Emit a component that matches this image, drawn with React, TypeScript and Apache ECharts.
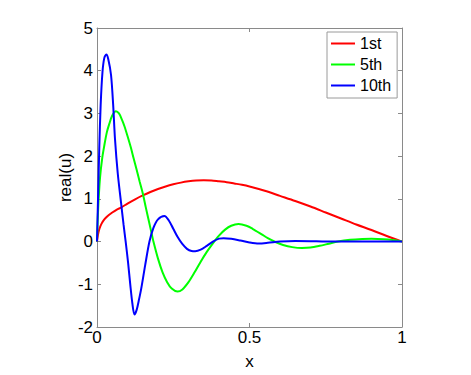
import React, { useEffect, useRef } from "react";
import * as echarts from "echarts";

// Series names
const seriesNames = ["1st", "5th", "10th"];
const seriesColors = ["#ff0000", "#00ff00", "#0000ff"];

// Tick values
const xTicks = [0, 0.5, 1];
const yTicks = [-2, -1, 0, 1, 2, 3, 4, 5];

// 1st mode: [x, real(u)]
const firstMode: [number, number][] = [
  [0, 0], [0.003, 0.15], [0.008, 0.3], [0.015, 0.42], [0.024, 0.52], [0.035, 0.6],
  [0.05, 0.68], [0.065, 0.75], [0.08, 0.8], [0.1, 0.89], [0.125, 0.99], [0.15, 1.08],
  [0.175, 1.16], [0.2, 1.23], [0.225, 1.29], [0.25, 1.34], [0.275, 1.38], [0.3, 1.41],
  [0.325, 1.43], [0.35, 1.435], [0.375, 1.43], [0.4, 1.41], [0.425, 1.39], [0.45, 1.36],
  [0.475, 1.33], [0.5, 1.29], [0.55, 1.19], [0.6, 1.07], [0.65, 0.95], [0.7, 0.82],
  [0.75, 0.68], [0.8, 0.54], [0.85, 0.4], [0.9, 0.27], [0.95, 0.13], [1, 0],
];

// 5th mode
const fifthMode: [number, number][] = [
  [0, 0], [0.004, 0.8], [0.01, 1.5], [0.017, 1.95], [0.024, 2.25], [0.032, 2.55],
  [0.04, 2.75], [0.05, 2.95], [0.062, 3.05], [0.072, 3.0], [0.082, 2.85], [0.09, 2.7],
  [0.1, 2.47], [0.111, 2.2], [0.12, 1.95], [0.13, 1.68], [0.14, 1.4], [0.15, 1.13],
  [0.16, 0.8], [0.17, 0.48], [0.18, 0.16], [0.185, 0], [0.2, -0.4], [0.215, -0.72],
  [0.23, -0.95], [0.245, -1.1], [0.264, -1.17], [0.28, -1.12], [0.3, -0.95], [0.32, -0.72],
  [0.34, -0.47], [0.36, -0.24], [0.38, -0.04], [0.4, 0.14], [0.42, 0.28], [0.44, 0.37],
  [0.464, 0.41], [0.49, 0.37], [0.51, 0.3], [0.54, 0.17], [0.56, 0.08], [0.585, -0.01],
  [0.61, -0.08], [0.64, -0.13], [0.672, -0.15], [0.7, -0.14], [0.73, -0.1], [0.76, -0.05],
  [0.79, 0.0], [0.83, 0.04], [0.87, 0.06], [0.9, 0.065], [0.94, 0.055], [0.97, 0.035], [1, 0],
];

// 10th mode
const tenthMode: [number, number][] = [
  [0, 0], [0.004, 1.2], [0.0075, 2.2], [0.012, 3.2], [0.018, 3.97], [0.024, 4.3],
  [0.0305, 4.38], [0.037, 4.27], [0.046, 3.9], [0.053, 3.2], [0.059, 2.4], [0.068, 1.6],
  [0.079, 0.9], [0.087, 0.4], [0.094, 0], [0.102, -0.5], [0.109, -1.0], [0.116, -1.45],
  [0.123, -1.71], [0.13, -1.6], [0.137, -1.38], [0.145, -1.1], [0.158, -0.55], [0.172, 0],
  [0.185, 0.32], [0.2, 0.52], [0.221, 0.6], [0.235, 0.5], [0.25, 0.3], [0.265, 0.1],
  [0.279, -0.05], [0.295, -0.17], [0.31, -0.22], [0.322, -0.225], [0.34, -0.19], [0.36, -0.1],
  [0.38, 0.0], [0.4, 0.07], [0.415, 0.08], [0.44, 0.065], [0.47, 0.025], [0.5, -0.02],
  [0.53, -0.045], [0.56, -0.03], [0.6, 0.0], [0.65, 0.015], [0.7, 0.01], [0.75, 0.0],
  [0.8, 0.0], [0.9, 0.0], [1, 0],
];

const seriesData = [firstMode, fifthMode, tenthMode];

const FONT = "'Liberation Sans', Arial, Helvetica, sans-serif";
const AXIS_COLOR = "#8a8a8a";

export default function App() {
  const ref = useRef<HTMLDivElement>(null);

  useEffect(() => {
    if (!ref.current) return;
    const chart = echarts.init(ref.current, undefined, { renderer: "svg" });

    const axisLine = { show: true, onZero: false, lineStyle: { color: AXIS_COLOR, width: 1 } };
    const axisTick = { show: true, inside: true, length: 4, lineStyle: { color: AXIS_COLOR, width: 1 } };

    const xBase = {
      type: "value" as const,
      min: xTicks[0],
      max: xTicks[xTicks.length - 1],
      interval: xTicks[1] - xTicks[0],
      splitLine: { show: false },
      axisLine,
      axisTick,
    };
    const yBase = {
      type: "value" as const,
      min: yTicks[0],
      max: yTicks[yTicks.length - 1],
      interval: yTicks[1] - yTicks[0],
      splitLine: { show: false },
      axisLine,
      axisTick,
    };

    chart.setOption({
      animation: false,
      backgroundColor: "#ffffff",
      grid: { left: 97, right: 69, top: 28, bottom: 42, containLabel: false },
      xAxis: [
        {
          ...xBase,
          position: "bottom",
          name: "x",
          nameLocation: "middle",
          nameGap: 26,
          nameMoveOverlap: false,
          nameTextStyle: { fontSize: 17, color: "#000", fontFamily: FONT },
          axisLabel: {
            show: true,
            margin: 2,
            fontSize: 17,
            color: "#000",
            fontFamily: FONT,
            showMinLabel: true,
            showMaxLabel: true,
            formatter: (v: number) => String(v),
          },
        },
        { ...xBase, position: "top", axisLabel: { show: false } },
      ],
      yAxis: [
        {
          ...yBase,
          position: "left",
          name: "real(u)",
          nameLocation: "middle",
          nameGap: 23,
          nameMoveOverlap: false,
          nameTextStyle: { fontSize: 17, color: "#000", fontFamily: FONT },
          axisLabel: {
            show: true,
            margin: 4,
            fontSize: 17,
            color: "#000",
            fontFamily: FONT,
            showMinLabel: true,
            showMaxLabel: true,
          },
        },
        { ...yBase, position: "right", axisLabel: { show: false } },
      ],
      legend: {
        orient: "vertical",
        left: 327,
        top: 32,
        icon: "rect",
        itemWidth: 24,
        itemHeight: 2,
        itemGap: 0,
        padding: [1, 6, 2, 4],
        borderColor: "#9a9a9a",
        borderWidth: 1,
        backgroundColor: "#ffffff",
        textStyle: { fontSize: 16, lineHeight: 21, color: "#000", fontFamily: FONT },
        data: seriesNames,
      },
      series: seriesNames.map((name, i) => ({
        name,
        type: "line",
        xAxisIndex: 0,
        yAxisIndex: 0,
        data: seriesData[i],
        showSymbol: false,
        symbol: "none",
        smooth: 0.3,
        color: seriesColors[i],
        lineStyle: { color: seriesColors[i], width: 2 },
        z: 2 + i,
      })),
    });

    return () => chart.dispose();
  }, []);

  return (
    <div
      ref={ref}
      style={{ position: "absolute", left: 0, top: 0, width: 471, height: 375 }}
    />
  );
}
